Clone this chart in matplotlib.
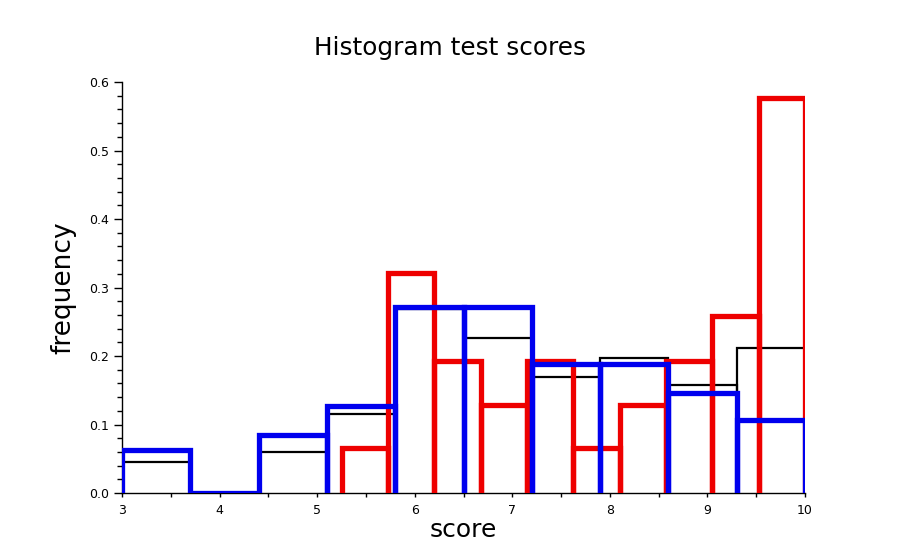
import matplotlib
matplotlib.use('Agg')
import matplotlib.pyplot as plt
from matplotlib.ticker import MultipleLocator, FormatStrFormatter

# bin edges and heights
edges_bw = [3.0, 3.7, 4.4, 5.1, 5.8, 6.5, 7.2, 7.9, 8.6, 9.3, 10.0]
black = [0.045, 0.0, 0.060, 0.115, 0.269, 0.227, 0.170, 0.197, 0.157, 0.212]
blue = [0.063, 0.0, 0.085, 0.127, 0.272, 0.272, 0.189, 0.189, 0.146, 0.106]

edges_red = [5.25, 5.725, 6.2, 6.675, 7.15, 7.625, 8.1, 8.575, 9.05, 9.525, 10.0]
red = [0.065, 0.321, 0.193, 0.129, 0.193, 0.065, 0.129, 0.193, 0.258, 0.577]


def draw_bars(ax, edges, heights, color, lw, z):
    # open outline per bar: left side, top, right side (no bottom)
    for x0, x1, h in zip(edges[:-1], edges[1:], heights):
        ax.plot([x0, x0, x1, x1], [0, h, h, 0], color=color, lw=lw,
                solid_joinstyle='miter', solid_capstyle='butt', zorder=z)


fig = plt.figure(figsize=(9.03, 5.53), dpi=100)
ax = fig.add_axes([0.1351, 0.1085, 0.7564, 0.7432])

draw_bars(ax, edges_bw, black, 'black', 1.6, 2)
draw_bars(ax, edges_red, red, '#ee0000', 3.8, 3)
draw_bars(ax, edges_bw, blue, '#0000ee', 3.8, 4)

ax.set_xlim(3, 10)
ax.set_ylim(0, 0.6)
for s in ['top', 'right']:
    ax.spines[s].set_visible(False)
for s in ['left', 'bottom']:
    ax.spines[s].set_linewidth(1.0)
    ax.spines[s].set_zorder(1)

ax.xaxis.set_major_locator(MultipleLocator(1))
ax.xaxis.set_minor_locator(MultipleLocator(0.5))
ax.yaxis.set_major_locator(MultipleLocator(0.1))
ax.yaxis.set_minor_locator(MultipleLocator(0.02))
ax.yaxis.set_major_formatter(FormatStrFormatter('%.1f'))
ax.tick_params(axis='x', which='both', length=3, width=1, labelsize=9, pad=5)
ax.tick_params(axis='y', which='major', length=5.5, width=1, labelsize=9, pad=4)
ax.tick_params(axis='y', which='minor', length=3.5, width=1)

ax.set_xlabel('score', fontsize=18, labelpad=1)
ax.set_ylabel('frequency', fontsize=19, labelpad=9)
fig.suptitle('Histogram test scores', fontsize=17.8, x=0.498, y=0.913,
             va='center')

fig.savefig('out.png', dpi=100)
